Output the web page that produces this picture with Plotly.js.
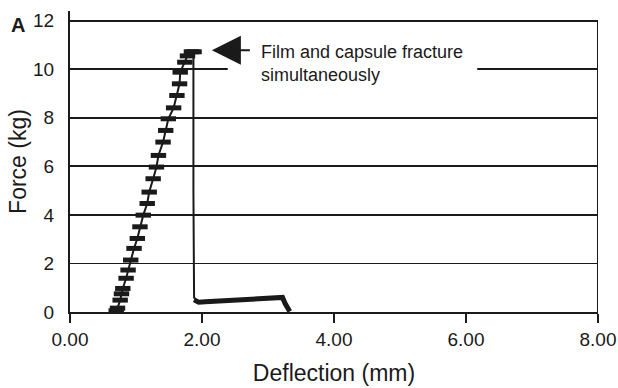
<!DOCTYPE html>
<html>
<head>
<meta charset="utf-8">
<script src="https://cdn.plot.ly/plotly-3.0.1.min.js"></script>
<style>html,body{margin:0;padding:0;background:#fff;}#chart{width:618px;height:388px;}</style>
</head>
<body>
<div id="chart"></div>
<script>
// Loading segment (force rises until fracture)
const loadDeflection = [0.70,0.72,0.76,0.78,0.80,0.85,0.88,0.92,0.97,1.02,1.06,1.11,1.17,1.20,1.26,1.31,1.34,1.41,1.45,1.49,1.57,1.62,1.66,1.67,1.74,1.78,1.84,1.88];
const loadForce      = [0.05,0.16,0.49,0.75,0.97,1.39,1.73,2.14,2.62,3.03,3.51,3.99,4.47,4.94,5.49,5.97,6.45,7.00,7.48,7.96,8.41,8.92,9.40,9.88,10.29,10.55,10.72,10.72];
// Drop after fracture
const dropDeflection = [1.88,1.87,1.87,1.88,1.92];
const dropForce      = [10.72,10.40,5.00,0.60,0.45];
// Residual plateau
const tailDeflection = [1.88,1.95,2.05,2.50,2.80,3.18,3.22,3.26,3.30,3.33];
const tailForce      = [0.50,0.40,0.42,0.48,0.55,0.62,0.60,0.35,0.15,0.02];

const xTicks = [0,2,4,6,8];
const yTicks = [0,2,4,6,8,10,12];
const xMax = 8, yMax = 12;
const noteText = "Film and capsule fracture<br>simultaneously";
const noteAt = {x: 2.15, y: 10.78};

const ink = '#1a1a1a';
const font = "'Liberation Sans', Arial, Helvetica, sans-serif";

const traces = [
  {x: loadDeflection, y: loadForce, type: 'scatter', mode: 'lines+markers',
   line: {color: ink, width: 2},
   marker: {symbol: 'line-ew', size: 11, color: ink, line: {color: ink, width: 5}},
   hoverinfo: 'skip', cliponaxis: false},
  {x: dropDeflection, y: dropForce, type: 'scatter', mode: 'lines',
   line: {color: ink, width: 2}, hoverinfo: 'skip'},
  {x: tailDeflection, y: tailForce, type: 'scatter', mode: 'lines',
   line: {color: ink, width: 5}, hoverinfo: 'skip', cliponaxis: false}
];

const layout = {
  width: 618, height: 388,
  margin: {l: 70, r: 20, t: 11, b: 76},
  paper_bgcolor: '#fff', plot_bgcolor: '#fff',
  showlegend: false,
  font: {family: font, color: ink},
  xaxis: {
    range: [0, xMax], tickvals: xTicks, tickformat: '.2f',
    showgrid: false, zeroline: false,
    showline: true, linecolor: ink, linewidth: 2,
    ticks: 'outside', ticklen: 9, tickwidth: 1.5, tickcolor: ink,
    tickfont: {size: 19, color: ink},
    title: {text: 'Deflection (mm)', font: {size: 23, color: ink}, standoff: 16},
    automargin: false, fixedrange: true
  },
  yaxis: {
    range: [0, 12.4], tickvals: yTicks,
    showgrid: true, gridcolor: ink, gridwidth: 1.8,
    zeroline: false,
    showline: true, linecolor: ink, linewidth: 2,
    ticks: '', ticklabelstandoff: 10,
    tickfont: {size: 19, color: ink},
    title: {text: 'Force (kg)', font: {size: 23, color: ink}, standoff: 0},
    automargin: false, fixedrange: true
  },
  shapes: [
    {type: 'line', xref: 'x', yref: 'y', x0: xMax, x1: xMax, y0: 0, y1: yMax,
     line: {color: ink, width: 2}, layer: 'between'},
    {type: 'rect', xref: 'x', yref: 'y', x0: 2.39, x1: 6.17, y0: 9.3, y1: 11.6,
     fillcolor: '#fff', line: {width: 0}, layer: 'between'}
  ],
  annotations: [
    {text: noteText, xref: 'x', yref: 'y', x: 2.86, y: 11.2,
     xanchor: 'left', yanchor: 'top', align: 'left', showarrow: false,
     font: {size: 18, color: ink}},
    {text: ' ', xref: 'x', yref: 'y', x: noteAt.x, y: noteAt.y,
     showarrow: true, axref: 'pixel', ayref: 'pixel', ax: 40, ay: 0,
     arrowhead: 2, arrowsize: 2.9, arrowwidth: 2, arrowcolor: ink,
     font: {size: 4}},
    {text: '<b>A</b>', xref: 'paper', yref: 'paper', x: -0.115, y: 0.955,
     xanchor: 'left', yanchor: 'middle', showarrow: false,
     font: {size: 20, color: ink}}
  ]
};

Plotly.newPlot('chart', traces, layout, {displayModeBar: false, staticPlot: true});
</script>
</body>
</html>
